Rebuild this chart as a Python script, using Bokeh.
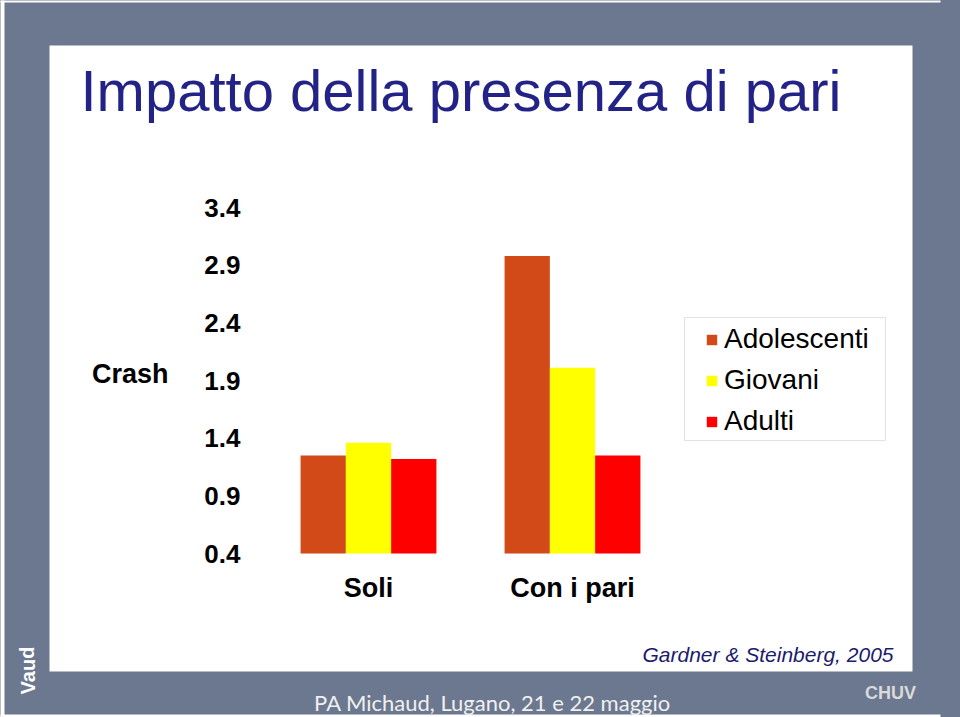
from bokeh.plotting import figure
from bokeh.models import (ColumnDataSource, FactorRange, Range1d, FixedTicker, Label,
                          BoxAnnotation, Legend, LegendItem)
from bokeh.transform import dodge
from bokeh.embed import file_html
from bokeh.resources import INLINE

# ---- data ----
categories = ["Soli", "Con i pari"]
series = ["Adolescenti", "Giovani", "Adulti"]
adolescenti = [1.25, 2.98]
giovani = [1.36, 2.01]
adulti = [1.22, 1.25]
y_ticks = [0.4, 0.9, 1.4, 1.9, 2.4, 2.9, 3.4]
y_tick_labels = ["0.4", "0.9", "1.4", "1.9", "2.4", "2.9", "3.4"]
colors = ["#D24A18", "#FFFF00", "#FF0000"]

# ---- layout constants (pixels) ----
W, H = 960, 717
FRAME_W = 940                      # frame spans x 0..940, y 0..717
FL, FR, FT, FB = 266, 674, 207, 553  # where the bar area sits inside the frame
Y0, Y1 = 0.4, 3.4
SLATE = "#6B788F"
NAVY = "#232387"
FONT = "Liberation Sans"

ncat = len(categories)
px_per_x = (FR - FL) / ncat
px_per_y = (FB - FT) / (Y1 - Y0)


def dx(px):
    return (px - FL) / px_per_x


def dy(py):
    return Y0 + (FB - py) / px_per_y


pad = FL / px_per_x  # equal padding on both sides of the categories
source = ColumnDataSource(dict(cat=categories, Adolescenti=adolescenti,
                               Giovani=giovani, Adulti=adulti))

p = figure(width=W, height=H, output_backend="svg", toolbar_location=None,
           x_range=FactorRange(factors=categories, range_padding=pad,
                               range_padding_units="percent"),
           y_range=Range1d(dy(H), dy(0)),
           min_border=0, min_border_left=0, min_border_right=W - FRAME_W,
           min_border_top=0, min_border_bottom=0)
p.styles = {"background-color": SLATE}
p.border_fill_color = SLATE
p.background_fill_color = SLATE
p.outline_line_color = None
p.xgrid.visible = False
p.ygrid.visible = False

# slide background: thin white page edges + white content area
for l, r, t, b in [(-10, 4, -10, 727), (-10, 960, -10, 2), (-10, 960, 714, 727)]:
    p.add_layout(BoxAnnotation(left=dx(l), right=dx(r), top=dy(t), bottom=dy(b),
                               fill_color="white", fill_alpha=1, line_color=None,
                               level="underlay"))
p.add_layout(BoxAnnotation(left=dx(49), right=dx(912), top=dy(45), bottom=dy(671),
                           fill_color="white", fill_alpha=1, line_color=None, level="underlay"))

bar_w = 0.222
offsets = [-bar_w, 0.0, bar_w]
renderers = []
for s, off, c in zip(series, offsets, colors):
    r = p.vbar(x=dodge("cat", off, range=p.x_range), top=s, bottom=Y0, width=bar_w,
               source=source, fill_color=c, line_color=None)
    renderers.append(r)

# axes, drawn at fixed data locations inside the frame
p.yaxis.ticker = FixedTicker(ticks=y_ticks)
p.yaxis.major_label_overrides = {t: l for t, l in zip(y_ticks, y_tick_labels)}
p.yaxis.fixed_location = 0
p.xaxis.fixed_location = Y0
for ax in (p.xaxis[0], p.yaxis[0]):
    ax.axis_line_color = None
    ax.major_tick_line_color = None
    ax.minor_tick_line_color = None
    ax.major_label_text_font = FONT
    ax.major_label_text_font_style = "bold"
    ax.major_label_text_color = "black"
p.yaxis.major_label_text_font_size = "26px"
p.yaxis.major_label_standoff = 20
p.xaxis.major_label_text_font_size = "27px"
p.xaxis.major_label_standoff = 13

# y axis title
p.add_layout(Label(x=dx(168), y=dy(373), text="Crash", text_align="right",
                   text_baseline="middle", text_font=FONT, text_font_style="bold",
                   text_font_size="27px", text_color="black"))

# legend box + legend
p.add_layout(BoxAnnotation(left=dx(684), right=dx(885), top=dy(317), bottom=dy(440),
                           fill_color="white", fill_alpha=1, line_color="#A0A0A0",
                           line_width=1, level="annotation"))
legend = Legend(items=[LegendItem(label=s, renderers=[r]) for s, r in zip(series, renderers)],
                location=(705, H - 437), orientation="vertical",
                padding=0, margin=0, spacing=9, label_height=30,
                glyph_width=13, glyph_height=13, label_standoff=6,
                border_line_alpha=0, background_fill_alpha=0,
                label_text_font=FONT, label_text_font_size="28px",
                label_text_color="black")
p.add_layout(legend)

# title
p.add_layout(Label(x=dx(80), y=dy(90), text="Impatto della presenza di pari",
                   text_align="left", text_baseline="alphabetic", text_font=FONT,
                   text_font_size="58px", text_color=NAVY))

# source
p.add_layout(Label(x=dx(893), y=dy(654), text="Gardner & Steinberg, 2005",
                   text_align="right", text_baseline="middle", text_font=FONT,
                   text_font_style="italic", text_font_size="21px", text_color="#1C1C6C"))

# footer
p.add_layout(Label(x=dx(492), y=dy(702), text="PA Michaud, Lugano, 21 e 22 maggio",
                   text_align="center", text_baseline="middle", text_font="Lato",
                   text_font_size="22px", text_color="#F0F0F0"))

# logos (text approximations)
p.add_layout(Label(x=dx(27), y=dy(670), text="Vaud", angle=1.5708,
                   text_align="center", text_baseline="middle", text_font=FONT,
                   text_font_style="bold", text_font_size="20px", text_color="white"))
p.add_layout(Label(x=dx(890), y=dy(692), text="CHUV",
                   text_align="center", text_baseline="middle", text_font=FONT,
                   text_font_style="bold", text_font_size="18px", text_color="#DADADA"))

open("out.html", "w").write(file_html(p, INLINE))
